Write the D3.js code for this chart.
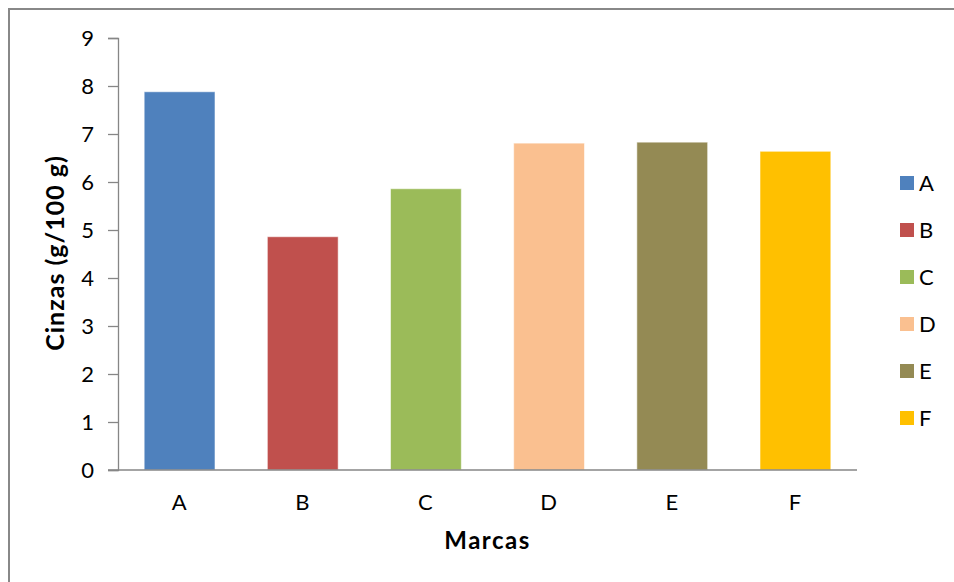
<!DOCTYPE html>
<html>
<head>
<meta charset="utf-8">
<script src="https://cdn.jsdelivr.net/npm/d3@7"></script>
<style>
  html, body { margin: 0; padding: 0; background: #fff; }
  svg { display: block; }
  text { font-family: "Lato", "Open Sans", sans-serif; fill: #000; }
</style>
</head>
<body>
<script>
// Ash content by brand
const categories = ["A", "B", "C", "D", "E", "F"];
const values = [7.88, 4.86, 5.86, 6.81, 6.83, 6.64];
const colors = ["#4F81BD", "#C0504D", "#9BBB59", "#FAC090", "#948A54", "#FFC000"];
const yTicks = [0, 1, 2, 3, 4, 5, 6, 7, 8, 9];
const xTitle = "Marcas";
const yTitle = "Cinzas (g/100 g)";

const W = 954, H = 582;
const plot = { left: 118, right: 857, top: 38, bottom: 470 };

const svg = d3.select("body").append("svg")
  .attr("width", W).attr("height", H);

// outer chart frame
svg.append("rect")
  .attr("x", 9).attr("y", 9)
  .attr("width", W + 20).attr("height", H + 20)
  .attr("fill", "#fff")
  .attr("stroke", "#888888").attr("stroke-width", 2);

const x = d3.scaleBand()
  .domain(categories)
  .range([plot.left, plot.right])
  .paddingInner(0.425)
  .paddingOuter(0.2125);

const y = d3.scaleLinear()
  .domain([0, 9])
  .range([plot.bottom, plot.top]);

// bars
svg.append("g").selectAll("rect")
  .data(categories)
  .join("rect")
  .attr("x", d => x(d))
  .attr("width", x.bandwidth())
  .attr("y", (d, i) => y(values[i]))
  .attr("height", (d, i) => y(0) - y(values[i]))
  .attr("fill", (d, i) => colors[i])
  .attr("stroke", "rgba(255,255,255,0.55)")
  .attr("stroke-width", 1);

// y axis
const yAxis = svg.append("g")
  .attr("transform", `translate(${plot.left},0)`)
  .call(d3.axisLeft(y).tickValues(yTicks).tickFormat(d3.format("d")).tickSizeOuter(0).tickSize(10).tickPadding(14));
yAxis.select(".domain").attr("stroke", "#868686").attr("stroke-width", 1.3);
yAxis.selectAll(".tick line").attr("stroke", "#868686").attr("stroke-width", 1.3);
yAxis.selectAll(".tick text")
  .attr("font-size", 22).attr("dy", "0.36em")
  .style("font-family", "Lato, sans-serif");

// x axis
const xAxis = svg.append("g")
  .attr("transform", `translate(0,${plot.bottom})`)
  .call(d3.axisBottom(x).tickSize(0).tickPadding(24));
xAxis.select(".domain").remove();
xAxis.append("line")
  .attr("x1", plot.left - 10).attr("x2", plot.right)
  .attr("y1", 0).attr("y2", 0)
  .attr("stroke", "#868686").attr("stroke-width", 1.5);
xAxis.selectAll(".tick text")
  .attr("font-size", 22)
  .attr("letter-spacing", 1)
  .style("font-family", "Lato, sans-serif");

// axis titles
svg.append("text")
  .attr("x", (plot.left + plot.right) / 2)
  .attr("y", 549)
  .attr("text-anchor", "middle")
  .attr("font-size", 24).attr("font-weight", "bold")
  .attr("letter-spacing", 1.5)
  .text(xTitle);

svg.append("text")
  .attr("transform", `translate(64,253) rotate(-90)`)
  .attr("text-anchor", "middle")
  .attr("font-size", 25).attr("font-weight", "bold")
  .attr("letter-spacing", 1)
  .text(yTitle);

// legend
const legend = svg.append("g");
const legendY = d3.scalePoint().domain(categories).range([183, 418]);
const items = legend.selectAll("g")
  .data(categories)
  .join("g")
  .attr("transform", d => `translate(900,${legendY(d)})`);
items.append("rect")
  .attr("x", 0).attr("y", -7)
  .attr("width", 14).attr("height", 14)
  .attr("fill", (d, i) => colors[i]);
items.append("text")
  .attr("x", 19).attr("y", 0).attr("dy", "0.36em")
  .attr("font-size", 22)
  .text(d => d);
</script>
</body>
</html>
